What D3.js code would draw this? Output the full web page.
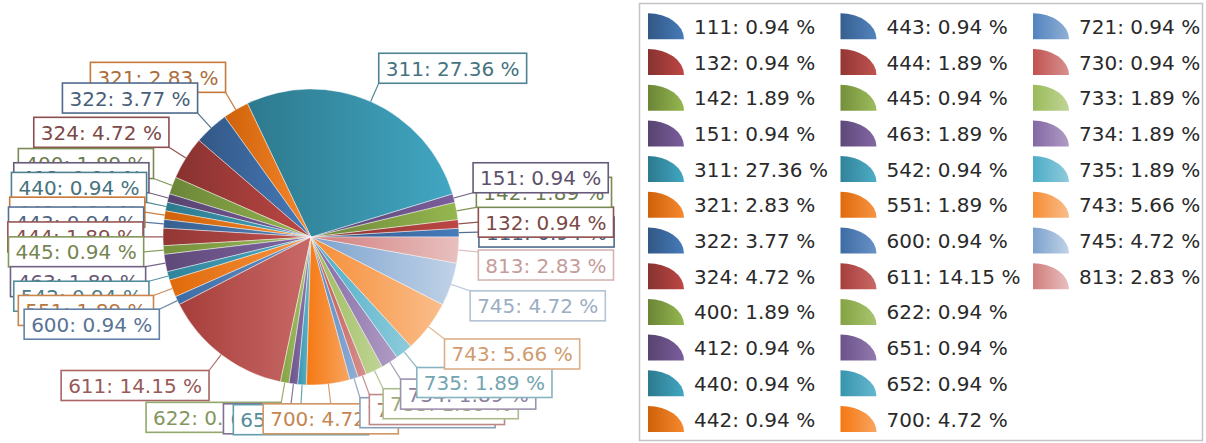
<!DOCTYPE html>
<html>
<head>
<meta charset="utf-8">
<script src="https://cdn.jsdelivr.net/npm/d3@7"></script>
<style>
  body { margin: 0; background: #fff; }
  text { font-family: "DejaVu Sans", Verdana, sans-serif; }
</style>
</head>
<body>
<div id="chart"></div>
<script>
// categories and their share (%) in data order
var codes = ["111","132","142","151","311","321","322","324","400","412","440","442",
             "443","444","445","463","542","551","600","611","622","651","652","700",
             "721","730","733","734","735","743","745","813"]
var percents = [0.94,0.94,1.89,0.94,27.36,2.83,3.77,4.72,1.89,0.94,0.94,0.94,
                0.94,1.89,0.94,1.89,0.94,1.89,0.94,14.15,0.94,0.94,0.94,4.72,
                0.94,0.94,1.89,1.89,1.89,5.66,4.72,2.83]

// palette: 6 base hues, each cycle gets a different shade
var basePalette = ["#4F81BD","#C0504D","#9BBB59","#8064A2","#4BACC6","#F79646"]
var shadeSteps = [-0.15, -0.15, -0.08, 0.05, 0.3, 0.6]

var width = 1206, height = 443
var cx = 311, cy = 237, R = 148
var legendRows = 12

function shade(c, t) {
  var h = d3.hsl(c)
  h.l = t < 0 ? h.l * (1 + t) : h.l + (1 - h.l) * t
  return h
}
function muted(c, s, l) {
  var h = d3.hsl(c)
  h.s = h.s * s
  h.l = h.l * l
  return h.formatHex()
}
function colorOf(i) {
  return shade(basePalette[i % 6], shadeSteps[Math.floor(i / 6)])
}

var data = codes.map(function(c, i) {
  return {code: c, value: percents[i], color: colorOf(i), idx: i}
})

var svg = d3.select("#chart").append("svg")
  .attr("width", width)
  .attr("height", height)

// gradients, dark left -> light right
var defs = svg.append("defs")
data.forEach(function(d) {
  var g = defs.append("linearGradient")
    .attr("id", "grad" + d.idx)
    .attr("x1", 0).attr("y1", 0).attr("x2", 1).attr("y2", 0)
  g.append("stop").attr("offset", 0).attr("stop-color", shade(d.color, -0.2).formatHex())
  g.append("stop").attr("offset", 1).attr("stop-color", shade(d.color, 0.1).formatHex())
})

// pie runs counter-clockwise starting at 3 o'clock
var pie = d3.pie()
  .sort(null)
  .value(function(d) { return d.value })
  .startAngle(Math.PI / 2)
  .endAngle(Math.PI / 2 - 2 * Math.PI)

var arc = d3.arc().innerRadius(0).outerRadius(R)
var arcs = pie(data)

var g = svg.append("g").attr("transform", "translate(" + cx + "," + cy + ")")

g.selectAll("path.slice")
  .data(arcs)
  .enter().append("path")
    .attr("class", "slice")
    .attr("d", arc)
    .attr("fill", function(d) { return "url(#grad" + d.data.idx + ")" })
    .attr("stroke", "#fff")
    .attr("stroke-opacity", 0.55)
    .attr("stroke-width", 0.8)

// label layout
var labelH = 30, pad = 7, lead = 20
var thr = Math.sin(10 * Math.PI / 180)

var labelLayer = g.append("g")
var lineLayer = labelLayer.append("g")

var labels = labelLayer.selectAll("g.lab")
  .data(arcs)
  .enter().append("g")
    .attr("class", "lab")

labels.append("rect")
labels.append("text")
  .attr("font-size", 20)
  .attr("fill", function(d) { return muted(d.data.color, 0.55, 0.85) })
  .text(function(d) { return d.data.code + ": " + d.data.value.toFixed(2) + " %" })

var boxes = []
labels.each(function(d, i) {
  var w = d3.select(this).select("text").node().getComputedTextLength() + 2 * pad
  var a = (d.startAngle + d.endAngle) / 2
  var dx = Math.sin(a), dy = -Math.cos(a)
  var ex = (R + lead) * dx, ey = (R + lead) * dy
  var bx = Math.abs(dx) < thr ? ex - w / 2 : (dx > 0 ? ex : ex - w)
  var by = Math.abs(dy) < thr ? ey - labelH / 2 : (dy > 0 ? ey : ey - labelH)
  boxes.push({x: bx, y: by, w: w, dx: dx, dy: dy, sx: R * dx, sy: R * dy, ex: ex, ey: ey})
})

// a centred label just below the horizontal slides clear of its upper neighbour
var n = boxes.length
boxes.forEach(function(b, i) {
  if (!(Math.abs(b.dy) < thr && b.dy > 0)) return
  var up = b.dx > 0 ? boxes[(i + 1) % n] : boxes[(i - 1 + n) % n]
  var ov = up.y + labelH - b.y
  var xo = Math.min(up.x + up.w, b.x + b.w) - Math.max(up.x, b.x)
  if (ov > 0 && xo > 0 && ov < labelH * 0.45) b.y = up.y + labelH + 3
})

lineLayer.selectAll("line")
  .data(arcs)
  .enter().append("line")
    .attr("x1", function(d, i) { return boxes[i].sx })
    .attr("y1", function(d, i) { return boxes[i].sy })
    .attr("x2", function(d, i) { return boxes[i].ex })
    .attr("y2", function(d, i) { return boxes[i].ey })
    .attr("stroke", function(d) { return muted(d.data.color, 0.6, 1) })
    .attr("stroke-width", 1.2)

labels.select("rect")
  .attr("x", function(d, i) { return boxes[i].x })
  .attr("y", function(d, i) { return boxes[i].y })
  .attr("width", function(d, i) { return boxes[i].w })
  .attr("height", labelH)
  .attr("fill", "#fff")
  .attr("stroke", function(d) { return muted(d.data.color, 0.6, 0.95) })
  .attr("stroke-width", 1.6)

labels.select("text")
  .attr("x", function(d, i) { return boxes[i].x + pad })
  .attr("y", function(d, i) { return boxes[i].y + labelH / 2 + 7.5 })

// legend
var legend = svg.append("g")
legend.append("rect")
  .attr("x", 639.5).attr("y", 3.5)
  .attr("width", 563).attr("height", 437)
  .attr("fill", "#fff")
  .attr("stroke", "#c4c4c4")
  .attr("stroke-width", 1.5)

var colX = d3.scaleLinear().domain([0, 1]).range([648, 840.5])
var rowY = d3.scaleLinear().domain([0, 1]).range([26.3, 62])

var items = legend.selectAll("g.item")
  .data(data)
  .enter().append("g")
    .attr("class", "item")
    .attr("transform", function(d, i) {
      return "translate(" + colX(Math.floor(i / legendRows)) + "," + rowY(i % legendRows) + ")"
    })

var iw = 36, ih = 26
items.append("path")
  .attr("d", "M0," + (ih / 2) + "L0," + (-ih / 2) +
             "A" + iw + "," + ih + " 0 0 1 " + iw + "," + (ih / 2) + "Z")
  .attr("fill", function(d) { return "url(#grad" + d.idx + ")" })

items.append("text")
  .attr("x", 46)
  .attr("y", 7.5)
  .attr("font-size", 20)
  .attr("fill", "#2a2a2a")
  .text(function(d) { return d.code + ": " + d.value.toFixed(2) + " %" })
</script>
</body>
</html>
